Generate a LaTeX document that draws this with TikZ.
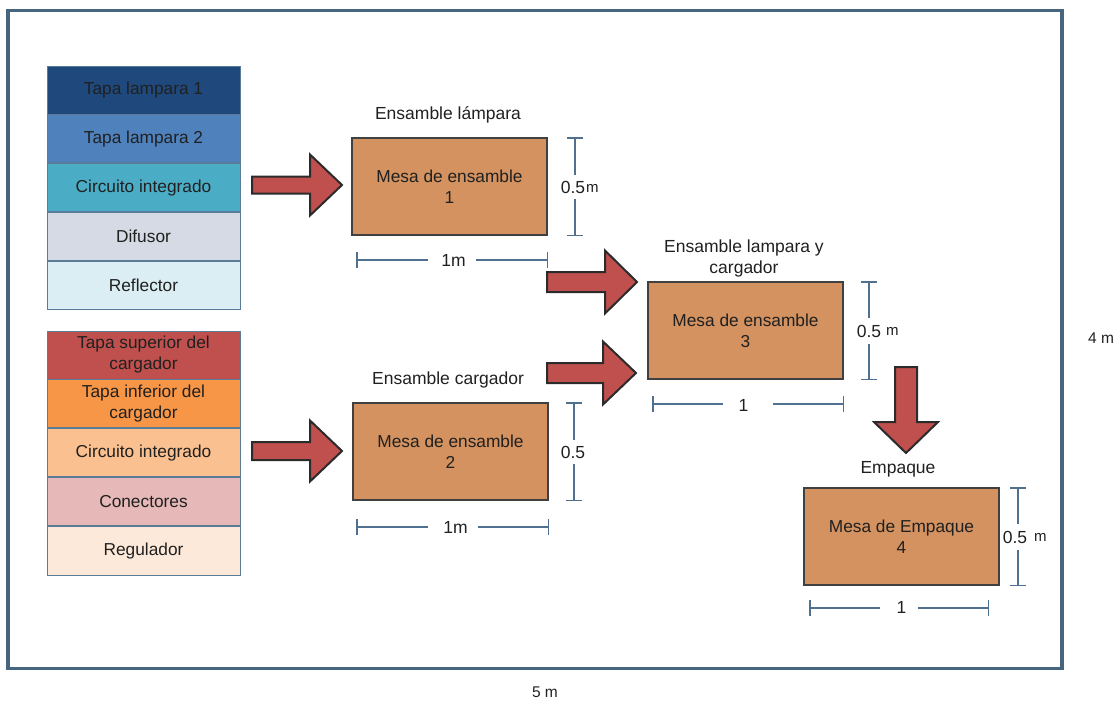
\documentclass[tikz,border=0pt]{standalone}
\usepackage{fontspec}
\setmainfont{Liberation Sans}
\usetikzlibrary{calc,arrows.meta,positioning}
\definecolor{frameblue}{HTML}{46657F}
\definecolor{partedge}{HTML}{5B7C99}
\definecolor{txt}{HTML}{202020}
\definecolor{pA}{HTML}{1F497D}
\definecolor{pB}{HTML}{4F81BD}
\definecolor{pC}{HTML}{4BACC6}
\definecolor{pD}{HTML}{D5DAE4}
\definecolor{pE}{HTML}{DBEEF3}
\definecolor{qA}{HTML}{C0504D}
\definecolor{qB}{HTML}{F79646}
\definecolor{qC}{HTML}{FAC08F}
\definecolor{qD}{HTML}{E6B9B8}
\definecolor{qE}{HTML}{FDE9D9}
\definecolor{tablefill}{HTML}{D3925F}
\definecolor{tableedge}{HTML}{404040}
\definecolor{arrowfill}{HTML}{C0504D}
\definecolor{arrowedge}{HTML}{2B2B2B}
\definecolor{dimblue}{HTML}{50708F}
\begin{document}
\begin{tikzpicture}[x=1pt,y=-1pt,
  every node/.style={text=txt},
  lbl/.style={font=\fontsize{17.5}{21}\selectfont, align=center, inner sep=0pt},
  unit/.style={font=\fontsize{15}{17}\selectfont, inner sep=0pt, anchor=base west},
  plantdim/.style={font=\fontsize{15.5}{17}\selectfont, inner sep=0pt},
  part/.style={draw=partedge, line width=0.8pt, minimum width=193pt, minimum height=48pt,
    inner sep=0pt, align=center, font=\fontsize{17.3}{21}\selectfont},
  worktable/.style={draw=tableedge, fill=tablefill, line width=2pt, minimum width=195pt,
    minimum height=97pt, inner sep=0pt, align=center, font=\fontsize{17.3}{21}\selectfont},
  blockarrow/.style={fill=arrowfill, draw=arrowedge, line width=2pt, line join=miter},
  dim/.style={draw=dimblue, line width=1.5pt},
  vbar/.style={dim, {Bar[width=16pt,line width=1.5pt]}-},
  plant/.style={draw=frameblue, line width=3.5pt, inner sep=0pt}]
\useasboundingbox (0,0) rectangle (1117,702);

% plant outline
\node[plant, minimum width=1054pt, minimum height=658pt] (plant) at (535,339.5) {};
\node[plantdim] (width) at (545,692) {5 m};
\node[plantdim] (height) at (1101,338) {4 m};

% lamp parts
\node[part, fill=pA] (l1) at (143.5,90) {Tapa lampara 1};
\node[part, fill=pB, below=0pt of l1] (l2) {Tapa lampara 2};
\node[part, fill=pC, below=0pt of l2] (l3) {Circuito integrado};
\node[part, fill=pD, below=0pt of l3] (l4) {Difusor};
\node[part, fill=pE, below=0pt of l4] (l5) {Reflector};

% charger parts
\node[part, fill=qA] (c1) at (143.5,355) {Tapa superior del\\cargador};
\node[part, fill=qB, below=0pt of c1] (c2) {Tapa inferior del\\cargador};
\node[part, fill=qC, below=0pt of c2] (c3) {Circuito integrado};
\node[part, fill=qD, below=0pt of c3] (c4) {Conectores};
\node[part, fill=qE, below=0pt of c4, minimum height=49pt] (c5) {Regulador};

% work tables
\node[worktable] (t1) at (449.5,186.5) {Mesa de ensamble\\1};
\node[worktable] (t2) at (450.5,451.5) {Mesa de ensamble\\2};
\node[worktable] (t3) at (745.5,330.5) {Mesa de ensamble\\3};
\node[worktable] (t4) at (901.5,536.5) {Mesa de Empaque\\4};

\node[lbl] (n1) at (448,115) {Ensamble lámpara};
\node[lbl] (n2) at (448,380) {Ensamble cargador};
\node[lbl] (n3) at (744,258.5) {Ensamble lampara y\\cargador};
\node[lbl] (n4) at (898,469) {Empaque};

% flow arrows
\draw[blockarrow] (252,176.5) -- (310,176.5) -- (310,154.5) -- (342,185) -- (310,215.5) -- (310,193.5) -- (252,193.5) -- cycle;
\draw[blockarrow] (252,442) -- (310,442) -- (310,420.5) -- (342,451) -- (310,481.5) -- (310,460) -- (252,460) -- cycle;
\draw[blockarrow] (547,272) -- (605,272) -- (605,250.5) -- (637,282) -- (605,313.5) -- (605,292) -- (547,292) -- cycle;
\draw[blockarrow] (547,363) -- (603,363) -- (603,341.5) -- (636,373) -- (603,404.5) -- (603,383) -- (547,383) -- cycle;
\draw[blockarrow] (895,367) -- (917,367) -- (917,422) -- (938,422) -- (906,453) -- (874,422) -- (895,422) -- cycle;

% left ends of the width marks
\coordinate (x1) at (356,0);
\coordinate (x3) at (652,0);
\coordinate (x4) at (809,0);
\coordinate (x4r) at (989,0);

% table 1 dimensions
\coordinate (v1) at ($(t1.east)+(27,0)$);
\draw[vbar] (v1 |- t1.north) -- ($(v1)+(0,-12)$);
\draw[vbar] (v1 |- t1.south) -- ($(v1)+(0,12)$);
\node[lbl] (v1t) at ($(v1)+(-2,1)$) {0.5};
\node[unit] (v1m) at ($(v1)+(11,5.5)$) {m};
\coordinate (h1) at ($(t1.south)+(0,24)$);
\draw[vbar] (h1 -| x1) -- ($(h1)+(-22,0)$);
\draw[vbar] (h1 -| t1.east) -- ($(h1)+(26,0)$);
\node[lbl] (h1t) at ($(h1)+(4,0)$) {1m};

% table 2 dimensions
\coordinate (v2) at ($(t2.east)+(25,0)$);
\draw[vbar] (v2 |- t2.north) -- ($(v2)+(0,-12)$);
\draw[vbar] (v2 |- t2.south) -- ($(v2)+(0,12)$);
\node[lbl] (v2t) at ($(v2)+(-1,1)$) {0.5};
\coordinate (h2) at ($(t2.south)+(0,26)$);
\draw[vbar] (h2 -| x1) -- ($(h2)+(-23,0)$);
\draw[vbar] (h2 -| t2.east) -- ($(h2)+(27,0)$);
\node[lbl] (h2t) at ($(h2)+(5,0)$) {1m};

% table 3 dimensions
\coordinate (v3) at ($(t3.east)+(25,0)$);
\draw[vbar] (v3 |- t3.north) -- ($(v3)+(0,-13)$);
\draw[vbar] (v3 |- t3.south) -- ($(v3)+(0,13)$);
\node[lbl] (v3t) at ($(v3)+(0,1)$) {0.5};
\node[unit] (v3m) at ($(v3)+(17,5)$) {m};
\coordinate (h3) at ($(t3.south)+(0,24)$);
\draw[vbar] (h3 -| x3) -- ($(h3)+(-22.5,0)$);
\draw[vbar] (h3 -| t3.east) -- ($(h3)+(27.5,0)$);
\node[lbl] (h3t) at ($(h3)+(-2,1)$) {1};

% table 4 dimensions
\coordinate (v4) at ($(t4.east)+(18,0)$);
\draw[vbar] (v4 |- t4.north) -- ($(v4)+(0,-13)$);
\draw[vbar] (v4 |- t4.south) -- ($(v4)+(0,13)$);
\node[lbl] (v4t) at ($(v4)+(-3,1)$) {0.5};
\node[unit] (v4m) at ($(v4)+(16,5)$) {m};
\coordinate (h4) at ($(t4.south)+(0,22)$);
\draw[vbar] (h4 -| x4) -- ($(h4)+(-21.5,0)$);
\draw[vbar] (h4 -| x4r) -- ($(h4)+(16.5,0)$);
\node[lbl] (h4t) at ($(h4)+(0,-1)$) {1};
\end{tikzpicture}
\end{document}
